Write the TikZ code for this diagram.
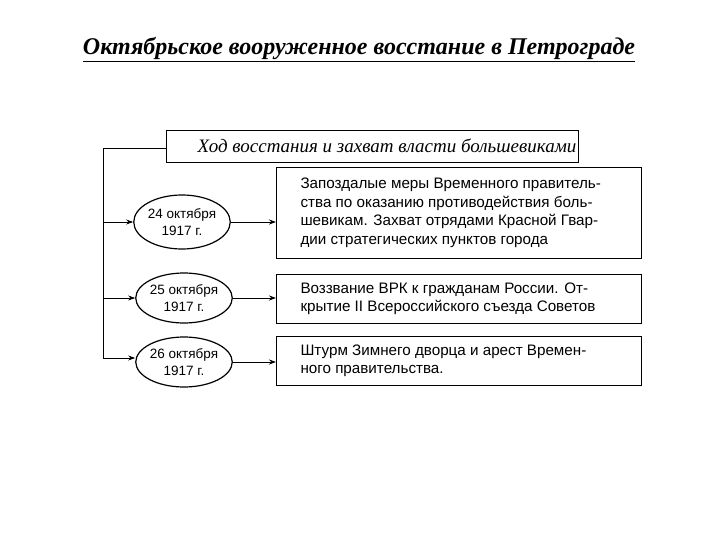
\documentclass[tikz,border=0pt]{standalone}
\usepackage{fontspec}
\setmainfont{Liberation Serif}
\newfontfamily\bodyf{Liberation Sans}
\usetikzlibrary{shapes.geometric,arrows.meta}
\begin{document}
\begin{tikzpicture}[x=1pt,y=-1pt,
  box/.style={draw,line width=1.2pt,rectangle,anchor=north west,inner sep=0pt},
  dat/.style={draw,line width=1.2pt,ellipse,inner sep=0pt,align=center,font=\bodyf\fontsize{13.5}{17}\selectfont},
  con/.style={line width=0.9pt},
  arr/.style={con,-{Stealth[length=7pt,width=5pt]}},
  txt/.style={anchor=west,align=left,font=\bodyf\fontsize{15.2}{18.5}\selectfont}]
\useasboundingbox (0,0) rectangle (720,540);
\node[font=\bfseries\itshape\fontsize{24}{26}\selectfont] (title) at (359,50) {\underline{Октябрьское вооруженное восстание в Петрограде}};
\node[box,minimum width=412pt,minimum height=32pt] (h) at (166,130) {};
\node[font=\itshape\fontsize{19}{20}\selectfont,anchor=west] (ht) at (194,146) {Ход восстания и захват власти большевиками};
\node[box,minimum width=365pt,minimum height=91pt] (b1) at (276,167) {};
\node[box,minimum width=365pt,minimum height=49pt] (b2) at (276,274) {};
\node[box,minimum width=365pt,minimum height=49pt] (b3) at (276,336) {};
\node[txt] (t1) at (297,213) {Запоздалые меры Временного правитель-\\ства по оказанию противодействия боль-\\шевикам. Захват отрядами Красной Гвар-\\дии стратегических пунктов города};
\node[txt] (t2) at (297,299) {Воззвание ВРК к гражданам России. От-\\крытие II Всероссийского съезда Советов};
\node[txt] (t3) at (297,361) {Штурм Зимнего дворца и арест Времен-\\ного правительства.};
\node[dat,minimum width=94pt,minimum height=54pt] (e1) at (182,222) {24 октября\\1917 г.};
\node[dat,minimum width=90pt,minimum height=50pt] (e2) at (184,298) {25 октября\\1917 г.};
\node[dat,minimum width=90pt,minimum height=50pt] (e3) at (184,362) {26 октября\\1917 г.};
\coordinate (top) at (103,148);
\coordinate (c1) at (103,222);
\coordinate (c2) at (103,298);
\coordinate (c3) at (103,358);
\draw[con] (h.west |- top) -- (top) -- (c3);
\draw[arr] (c1) -- (e1.west);
\draw[arr] (c2) -- (e2.west);
\draw[arr] (c3) -- (e3.west |- c3);
\draw[arr] (e1.east) -- (b1.west |- e1.east);
\draw[arr] (e2.east) -- (b2.west |- e2.east);
\draw[arr] (e3.east) -- (b3.west |- e3.east);
\end{tikzpicture}
\end{document}
